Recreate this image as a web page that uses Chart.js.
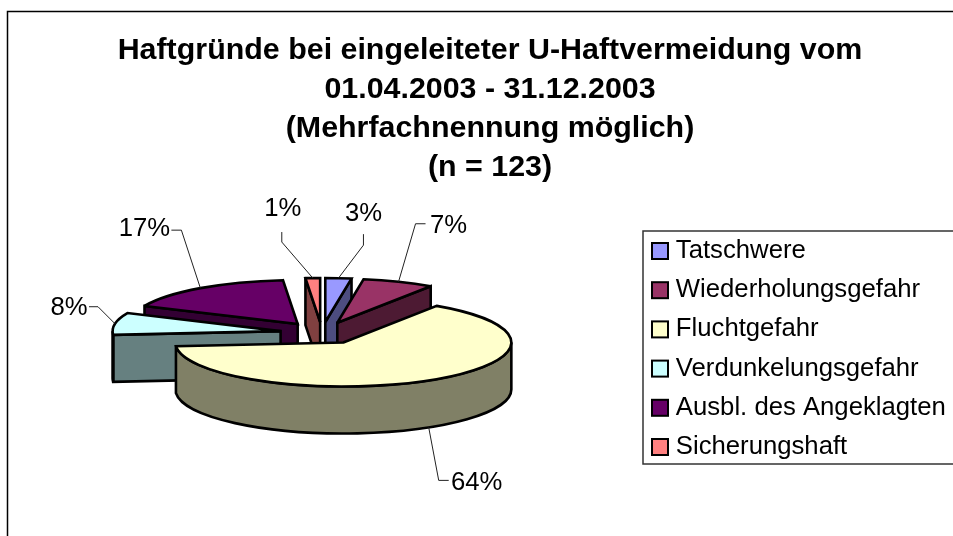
<!DOCTYPE html>
<html>
<head>
<meta charset="utf-8">
<style>html,body{margin:0;padding:0;background:#fff;overflow:hidden}#w{width:953px;height:536px}</style>
<script src="https://cdn.jsdelivr.net/npm/chart.js@4"></script>
</head>
<body>
<div id="w"><canvas id="c" width="953" height="536"></canvas></div>
<script>
const categories = ['Tatschwere','Wiederholungsgefahr','Fluchtgefahr','Verdunkelungsgefahr','Ausbl. des Angeklagten','Sicherungshaft'];
const shares = [2.5, 6.9, 64.4, 8.1, 16.9, 1.4];
const percentLabels = ['3%','7%','64%','8%','17%','1%'];
const titleLines = ['Haftgründe bei eingeleiteter U-Haftvermeidung vom','01.04.2003 - 31.12.2003','(Mehrfachnennung möglich)','(n = 123)'];
const topColors = ['#9999FF','#993366','#FFFFCC','#CCFFFF','#660066','#FF8080'];
const wallColors = ['#4D4D80','#4D1A33','#808066','#668080','#330033','#804040'];
// leader elbows and label anchors, relative to the slice's rim point
const leaderBends = [[25,-33],[17,-58],[10,53],[-17,-17],[-19,-58],[-31,-36]];
const leaderEnds  = [[25,-44],[27,-58],[20,53],[-26,-17],[-29,-58],[-31,-46]];
const labelOffsets = [[25,-64],[50,-56],[48,56],[-46,-16],[-56,-59],[-30,-69]];

const CX = 322, CY = 333, SQUASH = 0.262, DEPTH = 47, EXPLODE = 42;
const OUTLINE = 2.6, FONT = 'Liberation Sans', TEXT_SIZE = 25.7;

function apexOf(el){
  const mid = (el.startAngle + el.endAngle) / 2;
  return {x: CX + Math.cos(mid)*EXPLODE, y: CY + Math.sin(mid)*EXPLODE*SQUASH};
}
function rimPoint(a, angle, r, depth){
  return {x: a.x + Math.cos(angle)*r, y: a.y + Math.sin(angle)*r*SQUASH + (depth||0)};
}
function strokeOnly(ctx){
  ctx.lineWidth = OUTLINE; ctx.strokeStyle = '#000'; ctx.lineJoin = 'miter'; ctx.miterLimit = 2.5; ctx.stroke();
}
function strokeFill(ctx, fill){
  ctx.fillStyle = fill; ctx.fill();
  strokeOnly(ctx);
}
function cutWall(ctx, a, angle, r, fill){
  const p = rimPoint(a, angle, r);
  ctx.beginPath();
  ctx.moveTo(a.x, a.y); ctx.lineTo(p.x, p.y); ctx.lineTo(p.x, p.y+DEPTH); ctx.lineTo(a.x, a.y+DEPTH);
  ctx.closePath();
  strokeFill(ctx, fill);
}
function drawSlice(ctx, el, i){
  const a = apexOf(el), r = el.outerRadius, s = el.startAngle, e = el.endAngle, wall = wallColors[i];
  if (Math.cos(s) < -1e-6) cutWall(ctx, a, s, r, wall);
  if (Math.cos(e) >  1e-6) cutWall(ctx, a, e, r, wall);
  // rim wall: only the part of the rim that faces the viewer
  const w0 = Math.max(s, 0), w1 = Math.min(e, Math.PI);
  if (w1 > w0){
    ctx.beginPath();
    ctx.ellipse(a.x, a.y, r, r*SQUASH, 0, w0, w1);
    ctx.ellipse(a.x, a.y+DEPTH, r, r*SQUASH, 0, w1, w0, true);
    ctx.closePath();
    strokeFill(ctx, wall);
  }
  // top face: the library's own arc, flattened
  ctx.save();
  ctx.translate(a.x, a.y); ctx.scale(1, SQUASH); ctx.translate(-el.x, -el.y);
  el.draw(ctx);
  ctx.restore();
  ctx.beginPath();
  ctx.moveTo(a.x, a.y);
  ctx.ellipse(a.x, a.y, r, r*SQUASH, 0, s, e);
  ctx.closePath();
  strokeOnly(ctx);
}
const pie3d = {
  id: 'pie3d',
  beforeDraw(chart){
    const ctx = chart.ctx;
    ctx.save();
    ctx.strokeStyle = '#000'; ctx.lineWidth = 1.5;
    ctx.strokeRect(7.5, 11.5, 1000, 600);
    ctx.strokeStyle = '#333';
    ctx.strokeRect(643, 231, 400, 233);
    ctx.restore();
  },
  afterLayout(chart){
    const t = chart.titleBlock, l = chart.legend;
    t.left = 27; t.right = 953; t.top = 31; t.bottom = 190;
    const pad = l.options.labels.padding;
    l.left = 651 - pad; l.right = 960; l.top = 251 - TEXT_SIZE/2 - pad; l.bottom = 600;
  },
  beforeDatasetDraw(chart){
    const ctx = chart.ctx, els = chart.getDatasetMeta(0).data;
    const order = els.map((el,i)=>i).sort((p,q)=>apexOf(els[p]).y - apexOf(els[q]).y);
    ctx.save();
    order.forEach(i => drawSlice(ctx, els[i], i));
    ctx.restore();
    // leaders and percentage labels
    ctx.save();
    ctx.strokeStyle = '#222'; ctx.lineWidth = 1; ctx.fillStyle = '#000';
    ctx.font = TEXT_SIZE + 'px "' + FONT + '"'; ctx.textAlign = 'center'; ctx.textBaseline = 'middle';
    els.forEach((el,i)=>{
      const mid = (el.startAngle + el.endAngle)/2;
      const front = Math.sin(mid) > 0.5;
      const p = rimPoint(apexOf(el), mid, el.outerRadius, front ? DEPTH : 0);
      ctx.beginPath();
      ctx.moveTo(p.x, p.y);
      ctx.lineTo(p.x+leaderBends[i][0], p.y+leaderBends[i][1]);
      ctx.lineTo(p.x+leaderEnds[i][0], p.y+leaderEnds[i][1]);
      ctx.stroke();
      ctx.fillText(percentLabels[i], p.x+labelOffsets[i][0], p.y+labelOffsets[i][1]);
    });
    ctx.restore();
    return false;
  },
  afterDraw(chart){
    const ctx = chart.ctx, l = chart.legend;
    const pad = l.options.labels.padding, step = TEXT_SIZE + pad;
    ctx.save();
    l.legendItems.forEach((it,i)=>{
      const y = l.top + pad + i*step + TEXT_SIZE/2 - 8;
      ctx.fillStyle = it.fillStyle; ctx.strokeStyle = '#000'; ctx.lineWidth = 2;
      ctx.fillRect(652, y, 16, 16); ctx.strokeRect(652, y, 16, 16);
    });
    ctx.restore();
  }
};
new Chart(document.getElementById('c'), {
  type: 'pie',
  data: { labels: categories, datasets: [{ data: shares, backgroundColor: topColors, borderWidth: 0, radius: 168 }] },
  options: {
    responsive: false, animation: false, events: [],
    plugins: {
      tooltip: { enabled: false },
      title: { display: true, text: titleLines, color: '#000', padding: 0,
        font: { family: FONT, size: 30.4, weight: 'bold', lineHeight: 1.283 } },
      legend: { position: 'right', align: 'start',
        labels: { boxWidth: 12, boxHeight: 16, padding: 13.5, color: '#000',
          font: { family: FONT, size: TEXT_SIZE } } }
    }
  },
  plugins: [pie3d]
});
</script>
</body>
</html>
